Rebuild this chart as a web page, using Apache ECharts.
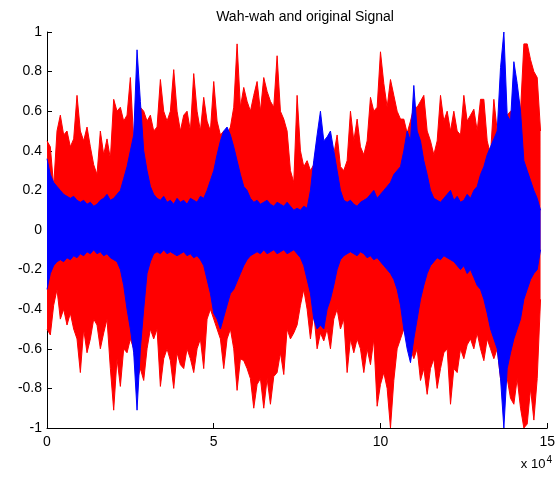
<!DOCTYPE html>
<html>
<head>
<meta charset="utf-8">
<script src="https://cdn.jsdelivr.net/npm/echarts@6/dist/echarts.min.js"></script>
<style>
  html, body { margin: 0; padding: 0; background: #fff; }
  #chart { width: 558px; height: 481px; }
</style>
</head>
<body>
<div id="chart"></div>
<script>
// envelope of each signal, one value per 1000 samples
const STEP = 1000;

const redTop = [
  0.45, 0.42, 0.22, 0.5, 0.58, 0.48, 0.5, 0.42, 0.46, 0.68,
  0.5, 0.45, 0.52, 0.42, 0.33, 0.28, 0.5, 0.38, 0.46, 0.36,
  0.66, 0.6, 0.62, 0.55, 0.58, 0.77, 0.45, 0.65, 0.62, 0.6,
  0.55, 0.58, 0.5, 0.52, 0.76, 0.6, 0.55, 0.6, 0.81, 0.6,
  0.5, 0.58, 0.6, 0.5, 0.79, 0.6, 0.5, 0.67, 0.55, 0.5,
  0.75, 0.55, 0.48, 0.5, 0.48, 0.52, 0.62, 0.94, 0.62, 0.72,
  0.65, 0.6, 0.68, 0.75, 0.6, 0.77, 0.7, 0.65, 0.62, 0.88,
  0.6, 0.56, 0.5, 0.3, 0.24, 0.68, 0.4, 0.32, 0.35, 0.3,
  0.33, 0.45, 0.42, 0.45, 0.42, 0.45, 0.38, 0.48, 0.32, 0.3,
  0.35, 0.6, 0.45, 0.56, 0.42, 0.38, 0.45, 0.67, 0.6, 0.62,
  0.9, 0.74, 0.62, 0.76, 0.68, 0.6, 0.56, 0.56, 0.49, 0.55,
  0.62, 0.62, 0.65, 0.68, 0.5, 0.45, 0.38, 0.45, 0.68, 0.55,
  0.6, 0.5, 0.6, 0.5, 0.48, 0.68, 0.55, 0.58, 0.61, 0.5,
  0.66, 0.66, 0.45, 0.38, 0.66, 0.5, 0.6, 0.62, 0.58, 0.6,
  0.6, 0.7, 0.6, 0.94, 0.94, 0.86, 0.8, 0.77, 0.5
];
const redBottom = [
  -0.5, -0.53, -0.38, -0.3, -0.45, -0.4, -0.48, -0.42, -0.5, -0.55,
  -0.72, -0.5, -0.62, -0.55, -0.45, -0.48, -0.6, -0.52, -0.45, -0.7,
  -0.91, -0.65, -0.79, -0.6, -0.62, -0.55, -0.6, -0.76, -0.7, -0.76,
  -0.6, -0.5, -0.55, -0.5, -0.79, -0.65, -0.6, -0.66, -0.8, -0.62,
  -0.68, -0.7, -0.6, -0.65, -0.72, -0.6, -0.55, -0.7, -0.45, -0.4,
  -0.45, -0.5, -0.55, -0.7, -0.55, -0.5, -0.6, -0.81, -0.65, -0.66,
  -0.7, -0.75, -0.9, -0.78, -0.75, -0.9, -0.75, -0.88, -0.74, -0.72,
  -0.62, -0.73, -0.5, -0.55, -0.52, -0.48, -0.38, -0.3, -0.4, -0.55,
  -0.42, -0.6, -0.52, -0.56, -0.5, -0.6, -0.45, -0.4, -0.5, -0.45,
  -0.72, -0.55, -0.62, -0.55, -0.6, -0.72, -0.6, -0.68, -0.55, -0.89,
  -0.78, -0.72, -0.8, -1.0, -0.76, -0.6, -0.55, -0.5, -0.55, -0.6,
  -0.65, -0.6, -0.76, -0.7, -0.83, -0.7, -0.65, -0.8, -0.7, -0.62,
  -0.6, -0.88, -0.7, -0.72, -0.6, -0.65, -0.58, -0.55, -0.6, -0.52,
  -0.6, -0.66, -0.55, -0.6, -0.65, -0.6, -0.75, -0.8, -0.75, -0.85,
  -0.88, -0.75, -0.9, -1.0, -0.98, -0.8, -0.96, -0.75, -0.35
];
const blueTop = [
  0.36, 0.28, 0.24, 0.22, 0.2, 0.18, 0.17, 0.16, 0.17, 0.15,
  0.14, 0.15, 0.13, 0.14, 0.12, 0.13, 0.15, 0.16, 0.18, 0.15,
  0.16, 0.18, 0.2, 0.26, 0.32, 0.4, 0.48, 0.91, 0.65, 0.4,
  0.3, 0.22, 0.18, 0.16, 0.15, 0.17, 0.14, 0.15, 0.13, 0.16,
  0.14, 0.15, 0.13, 0.16, 0.15, 0.14, 0.17, 0.16, 0.2, 0.25,
  0.3, 0.38, 0.45, 0.5, 0.52, 0.48, 0.42, 0.35, 0.28, 0.22,
  0.2, 0.16, 0.14, 0.15, 0.13, 0.14, 0.15, 0.13, 0.12, 0.14,
  0.13, 0.12, 0.14, 0.12, 0.1, 0.11, 0.1, 0.12, 0.11, 0.2,
  0.35, 0.48, 0.6, 0.45, 0.47, 0.5, 0.4, 0.3, 0.2, 0.15,
  0.14, 0.15, 0.13, 0.12, 0.14, 0.15, 0.16, 0.18, 0.2, 0.16,
  0.18, 0.2, 0.22, 0.24, 0.28, 0.3, 0.32, 0.4, 0.5, 0.45,
  0.73, 0.5, 0.45, 0.35, 0.28, 0.2, 0.16, 0.15, 0.14, 0.16,
  0.18, 0.2, 0.15, 0.17, 0.14, 0.15, 0.18, 0.16, 0.2, 0.22,
  0.28, 0.32, 0.38, 0.42, 0.46, 0.5, 0.82, 1.0, 0.58, 0.55,
  0.85, 0.74, 0.6, 0.35, 0.3, 0.25, 0.2, 0.16, 0.1
];
const blueBottom = [
  -0.3, -0.22, -0.18, -0.16, -0.15, -0.16, -0.14, -0.15, -0.13, -0.14,
  -0.12, -0.13, -0.11, -0.12, -0.1, -0.12, -0.11, -0.13, -0.12, -0.14,
  -0.15, -0.16, -0.2, -0.28, -0.4, -0.5, -0.62, -0.91, -0.6, -0.4,
  -0.22, -0.16, -0.12, -0.11, -0.12, -0.1, -0.12, -0.11, -0.12, -0.13,
  -0.12, -0.11, -0.13, -0.12, -0.14, -0.13, -0.15, -0.18, -0.25, -0.32,
  -0.42, -0.45, -0.5, -0.44, -0.38, -0.32, -0.3, -0.26, -0.22, -0.18,
  -0.15, -0.13, -0.12, -0.11, -0.12, -0.1, -0.12, -0.11, -0.1, -0.12,
  -0.11, -0.1, -0.12, -0.11, -0.1, -0.12, -0.14, -0.18, -0.25, -0.32,
  -0.45, -0.5, -0.48, -0.5, -0.4, -0.35, -0.28, -0.2, -0.15, -0.13,
  -0.12, -0.11, -0.12, -0.13, -0.11, -0.12, -0.14, -0.13, -0.15, -0.14,
  -0.16, -0.18, -0.2, -0.22, -0.25, -0.3, -0.38, -0.5, -0.6, -0.67,
  -0.55, -0.45, -0.35, -0.28, -0.22, -0.18, -0.16, -0.14, -0.15, -0.13,
  -0.14, -0.15, -0.16, -0.18, -0.2, -0.18, -0.22, -0.2, -0.24, -0.28,
  -0.3, -0.35, -0.42, -0.5, -0.55, -0.6, -0.75, -1.0, -0.7, -0.62,
  -0.55, -0.5, -0.45, -0.35, -0.3, -0.25, -0.22, -0.2, -0.1
];

const xTicks = [0, 50000, 100000, 150000];

const toPoints = arr => arr.map((v, i) => [i * STEP, v]);

// each envelope drawn as a filled area down/up to zero, so the waveform looks solid
function envelope(name, values, color, z) {
  return {
    name, type: 'line', data: toPoints(values),
    showSymbol: false, sampling: 'none', z,
    lineStyle: { color, width: 1 },
    areaStyle: { color, opacity: 1, origin: 0 }
  };
}

const font = 'Liberation Sans, Arial, sans-serif';
const chart = echarts.init(document.getElementById('chart'));

chart.setOption({
  animation: false,
  backgroundColor: '#fff',
  title: {
    text: 'Wah-wah and original Signal',
    left: 300, top: 5, textAlign: 'center',
    textStyle: { fontFamily: font, fontSize: 14, fontWeight: 'normal', color: '#000' }
  },
  grid: { left: 47, right: 5, top: 32, bottom: 53 },
  xAxis: {
    type: 'value', min: 0, max: 150000, interval: 50000,
    axisLine: { onZero: false, lineStyle: { color: '#000', width: 1 } },
    axisTick: { inside: true, length: 5, lineStyle: { color: '#000' } },
    axisLabel: {
      margin: 7, color: '#000', fontFamily: font, fontSize: 14,
      formatter: v => xTicks.includes(v) ? String(v / 10000) : ''
    },
    splitLine: { show: false }
  },
  yAxis: {
    type: 'value', min: -1, max: 1, interval: 0.2,
    axisLine: { show: true, onZero: false, lineStyle: { color: '#000', width: 1 } },
    axisTick: { show: true, inside: true, length: 5, lineStyle: { color: '#000' } },
    axisLabel: {
      margin: 5, color: '#000', fontFamily: font, fontSize: 14,
      formatter: v => String(Number(v.toFixed(1)) || 0)
    },
    splitLine: { show: false }
  },
  graphic: [{
    type: 'text', right: 6, top: 455,
    style: {
      text: 'x 10{s|4}', fill: '#000', font: '13px ' + font,
      rich: { s: { fontSize: 10, verticalAlign: 'top', padding: [0, 0, 8, 1] } }
    }
  }],
  series: [
    envelope('original +', redTop, '#ff0000', 2),
    envelope('original -', redBottom, '#ff0000', 2),
    envelope('wah-wah +', blueTop, '#0000ff', 3),
    envelope('wah-wah -', blueBottom, '#0000ff', 3)
  ]
});
</script>
</body>
</html>
